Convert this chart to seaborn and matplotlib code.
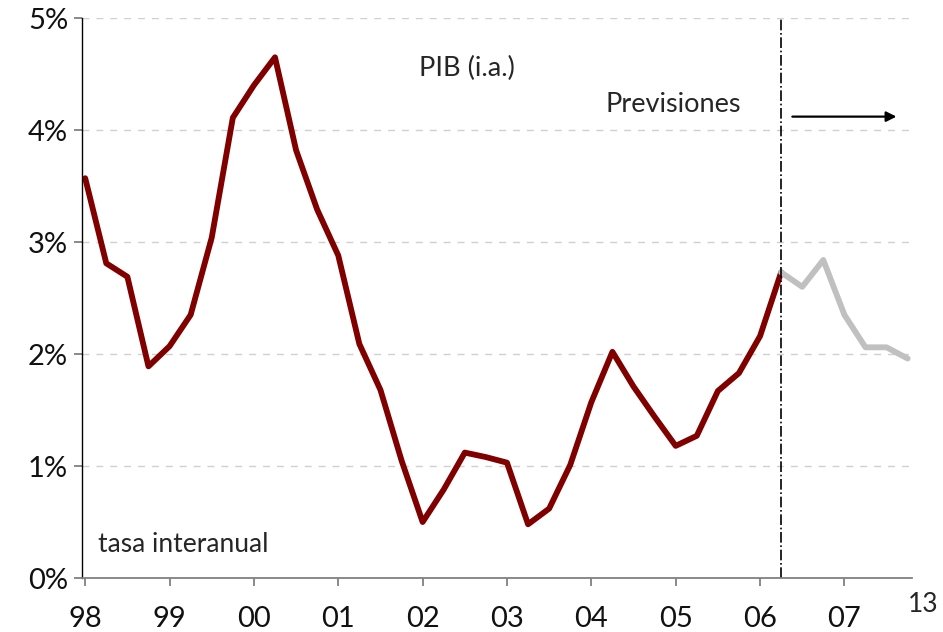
import numpy as np
import pandas as pd
import seaborn as sns
import matplotlib.pyplot as plt

# quarterly GDP growth, year-on-year (%), 98Q1 .. 06Q2
observed = [3.57, 2.81, 2.69, 1.89, 2.07, 2.35, 3.04, 4.11,
            4.40, 4.65, 3.82, 3.29, 2.88, 2.09, 1.68, 1.05,
            0.50, 0.79, 1.12, 1.08, 1.03, 0.48, 0.62, 1.01,
            1.57, 2.02, 1.71, 1.44, 1.18, 1.27, 1.67, 1.83,
            2.16, 2.73]
# forecast, 06Q2 .. 07Q4
forecast = [2.73, 2.60, 2.84, 2.35, 2.06, 2.06, 1.96]
year_labels = ['98', '99', '00', '01', '02', '03', '04', '05', '06', '07']
y_labels = ['0%', '1%', '2%', '3%', '4%', '5%']

obs_df = pd.DataFrame({'q': np.arange(len(observed)), 'pib': observed})
fc_start = len(observed) - 1
fc_df = pd.DataFrame({'q': np.arange(fc_start, fc_start + len(forecast)), 'pib': forecast})

sns.set_style('white')
plt.rcParams['font.family'] = ['Lato', 'DejaVu Sans']

fig = plt.figure(figsize=(9.43, 6.32), dpi=100)
ax = fig.add_axes([0.087, 0.0854, 0.880, 0.886])

sns.lineplot(data=obs_df, x='q', y='pib', color='#800000', linewidth=4.2, ax=ax)
sns.lineplot(data=fc_df, x='q', y='pib', color='#c0c0c0', linewidth=4.2, ax=ax)

ax.set_xlim(-0.15, 39.2)
ax.set_ylim(0, 5)
ax.set_xticks(np.arange(0, 4 * len(year_labels), 4))
ax.set_xticklabels(year_labels)
ax.set_yticks(range(len(y_labels)))
ax.set_yticklabels(y_labels)
ax.set_xlabel('')
ax.set_ylabel('')

for v in range(1, 6):
    ax.axhline(v, color='#d0d0d0', linestyle=(0, (5, 5)), linewidth=1, zorder=0)

ax.axvline(fc_start, color='black', linestyle='-.', linewidth=1.2)

for s in ['top', 'right']:
    ax.spines[s].set_visible(False)
ax.spines['left'].set_color('black')
ax.spines['left'].set_linewidth(1)
ax.spines['bottom'].set_color('#808080')
ax.spines['bottom'].set_linewidth(1.3)
ax.tick_params(axis='y', length=6, width=1.3, color='#808080', labelsize=21,
               labelcolor='#111111', pad=4, left=True)
ax.tick_params(axis='x', length=6, width=1.3, color='#808080', labelsize=21,
               labelcolor='#111111', pad=14, bottom=True)

ax.text(18.1, 4.55, 'PIB (i.a.)', fontsize=19.5, ha='center', va='center')
ax.text(27.9, 4.23, 'Previsiones', fontsize=19.5, ha='center', va='center')
ax.annotate('', xy=(38.6, 4.12), xytext=(33.4, 4.12),
            arrowprops=dict(arrowstyle='-|>', color='black', lw=1.6, mutation_scale=15))
ax.text(0.6, 0.3, 'tasa interanual', fontsize=19, ha='left', va='center')
fig.text(923 / 943, 1 - 605 / 632, '13', fontsize=19, ha='center', va='center')

fig.savefig('out.png', dpi=100)
